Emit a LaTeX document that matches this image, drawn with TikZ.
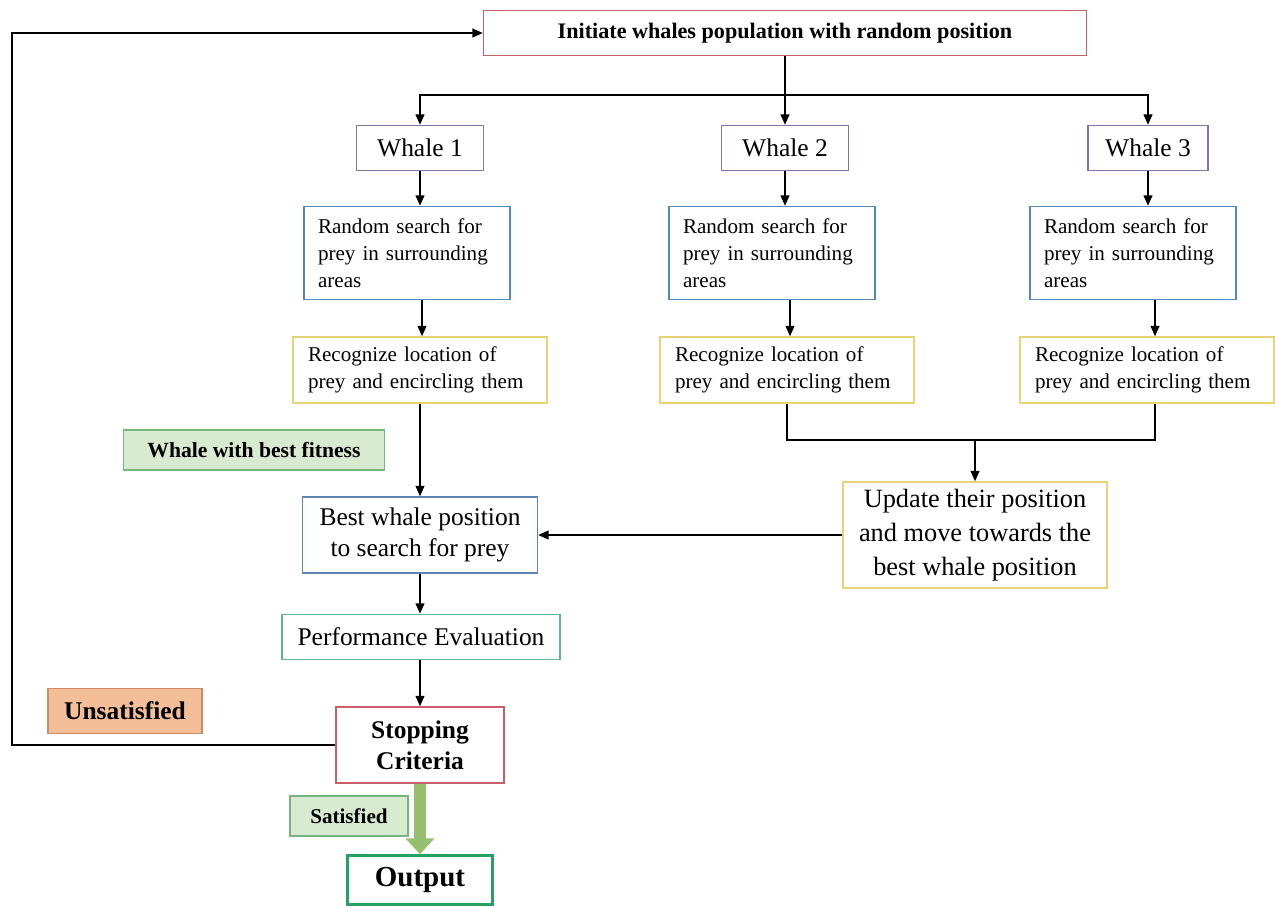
\documentclass[tikz,border=0pt]{standalone}
\usepackage{xcolor}
\usepackage{fontspec}
\setmainfont{Liberation Serif}
\usepackage{tikz}
\usetikzlibrary{arrows.meta,calc}
\definecolor{rosered}{RGB}{200,95,105}
\definecolor{whalepurple}{RGB}{135,115,165}
\definecolor{seablue}{RGB}{85,135,185}
\definecolor{sandyellow}{RGB}{232,212,120}
\definecolor{tealgreen}{RGB}{95,180,150}
\definecolor{leafgreen}{RGB}{120,180,125}
\definecolor{leaffill}{RGB}{216,234,208}
\definecolor{peachfill}{RGB}{244,190,152}
\definecolor{peachline}{RGB}{205,140,100}
\definecolor{outgreen}{RGB}{40,160,95}
\definecolor{arrowgreen}{RGB}{150,192,112}

\begin{document}
\begin{tikzpicture}[x=0.02cm, y=-0.02cm,
    >={Triangle[length=6pt,width=5pt]},
    flow/.style={line width=1.1pt, ->},
    box/.style={draw, line width=0.8pt, fill=white, inner sep=0pt, align=center},
    smalltext/.style={font=\fontsize{12}{15.4}\selectfont},
    bigtext/.style={font=\fontsize{14.5}{17.5}\selectfont},
    tag/.style={draw, line width=0.8pt, inner sep=0pt, font=\fontsize{12.3}{15}\selectfont\bfseries}]
    \useasboundingbox (0,0) rectangle (1275,907);

    % Start
    \node[box, draw=rosered, minimum width=12.06cm, minimum height=0.9cm,
          font=\fontsize{12.6}{15}\selectfont\bfseries] (init) at (785,33) {Initiate whales population with random position};

    % Whales
    \node[box, draw=whalepurple, bigtext, minimum width=2.54cm, minimum height=0.9cm] (w1) at (420,148) {Whale 1};
    \node[box, draw=whalepurple, bigtext, minimum width=2.54cm, minimum height=0.9cm] (w2) at (785,148) {Whale 2};
    \node[box, draw=whalepurple, bigtext, minimum width=2.4cm, minimum height=0.9cm] (w3) at (1148,148) {Whale 3};

    % Random search
    \node[box, draw=seablue, smalltext, align=left, text width=3.56cm, inner xsep=0.28cm,
          minimum height=1.86cm] (r1) at (407,253) {Random search for\\prey in surrounding\\areas};
    \node[box, draw=seablue, smalltext, align=left, text width=3.56cm, inner xsep=0.28cm,
          minimum height=1.86cm] (r2) at (772,253) {Random search for\\prey in surrounding\\areas};
    \node[box, draw=seablue, smalltext, align=left, text width=3.56cm, inner xsep=0.28cm,
          minimum height=1.86cm] (r3) at (1133,253) {Random search for\\prey in surrounding\\areas};

    % Recognize
    \node[box, draw=sandyellow, smalltext, align=left, text width=4.48cm, inner xsep=0.3cm,
          minimum height=1.32cm] (c1) at (420,370) {Recognize location of\\prey and encircling them};
    \node[box, draw=sandyellow, smalltext, align=left, text width=4.48cm, inner xsep=0.3cm,
          minimum height=1.32cm] (c2) at (787,370) {Recognize location of\\prey and encircling them};
    \node[box, draw=sandyellow, smalltext, align=left, text width=4.48cm, inner xsep=0.3cm,
          minimum height=1.32cm] (c3) at (1147,370) {Recognize location of\\prey and encircling them};

    % Best whale and update
    \node[tag, draw=leafgreen, fill=leaffill, minimum width=5.22cm, minimum height=0.8cm] (fit) at (254,450) {Whale with best fitness};
    \node[box, draw=seablue!80!gray, bigtext, minimum width=4.7cm, minimum height=1.52cm] (best) at (420,535) {Best whale position\\to search for prey};
    \node[box, draw=sandyellow, font=\fontsize{15}{19.3}\selectfont, minimum width=5.28cm, minimum height=2.12cm] (upd) at (975,535) {Update their position\\and move towards the\\best whale position};

    % Evaluation and stop
    \node[box, draw=tealgreen, bigtext, minimum width=5.56cm, minimum height=0.9cm] (perf) at (421,637) {Performance Evaluation};
    \node[tag, draw=peachline, fill=peachfill, font=\fontsize{14.5}{17}\selectfont\bfseries,
          minimum width=3.08cm, minimum height=0.9cm] (unsat) at (125,711) {Unsatisfied};
    \node[box, draw=rosered, font=\fontsize{14.5}{17.5}\selectfont\bfseries,
          minimum width=3.36cm, minimum height=1.52cm] (stop) at (420,745) {Stopping\\Criteria};
    \node[tag, draw=leafgreen, fill=leaffill, font=\fontsize{12}{14}\selectfont\bfseries,
          minimum width=2.36cm, minimum height=0.8cm] (sat) at (349,816) {Satisfied};
    \node[box, draw=outgreen, line width=1.5pt, font=\fontsize{16.5}{19}\selectfont\bfseries,
          minimum width=2.9cm, minimum height=0.98cm] (out) at (420,880) {Output};

    % Connectors
    \coordinate (fork) at (785,95);
    \coordinate (loop) at (12,745);
    \coordinate (join) at (975,440);
    \coordinate (d1) at ($(r1.south)+(15,0)$);
    \coordinate (d2) at ($(r2.south)+(18,0)$);
    \coordinate (d3) at ($(r3.south)+(22,0)$);
    \coordinate (e3) at ($(c3.south)+(8,0)$);
    \draw[line width=1.1pt] (init.south) -- (fork);
    \draw[flow] (fork) -| (w1.north);
    \draw[flow] (fork) -- (w2.north);
    \draw[flow] (fork) -| (w3.north);
    \draw[flow] (w1.south) -- (w1.south |- r1.north);
    \draw[flow] (w2.south) -- (w2.south |- r2.north);
    \draw[flow] (w3.south) -- (w3.south |- r3.north);
    \draw[flow] (d1) -- (d1 |- c1.north);
    \draw[flow] (d2) -- (d2 |- c2.north);
    \draw[flow] (d3) -- (d3 |- c3.north);
    \draw[line width=1.1pt] (c2.south) |- (join) -| (e3);
    \draw[flow] (join) -- (upd.north);
    \draw[flow] (c1.south) -- (best.north);
    \draw[flow] (upd.west) -- (best.east);
    \draw[flow] (best.south) -- (best.south |- perf.north);
    \draw[flow] (perf.south -| stop.north) -- (stop.north);
    \draw[flow] (stop.west) -- (loop) |- (init.west);
    \draw[arrowgreen, line width=7pt, -{Triangle[length=9pt,width=16pt]}] (stop.south) -- (out.north);
\end{tikzpicture}
\end{document}
